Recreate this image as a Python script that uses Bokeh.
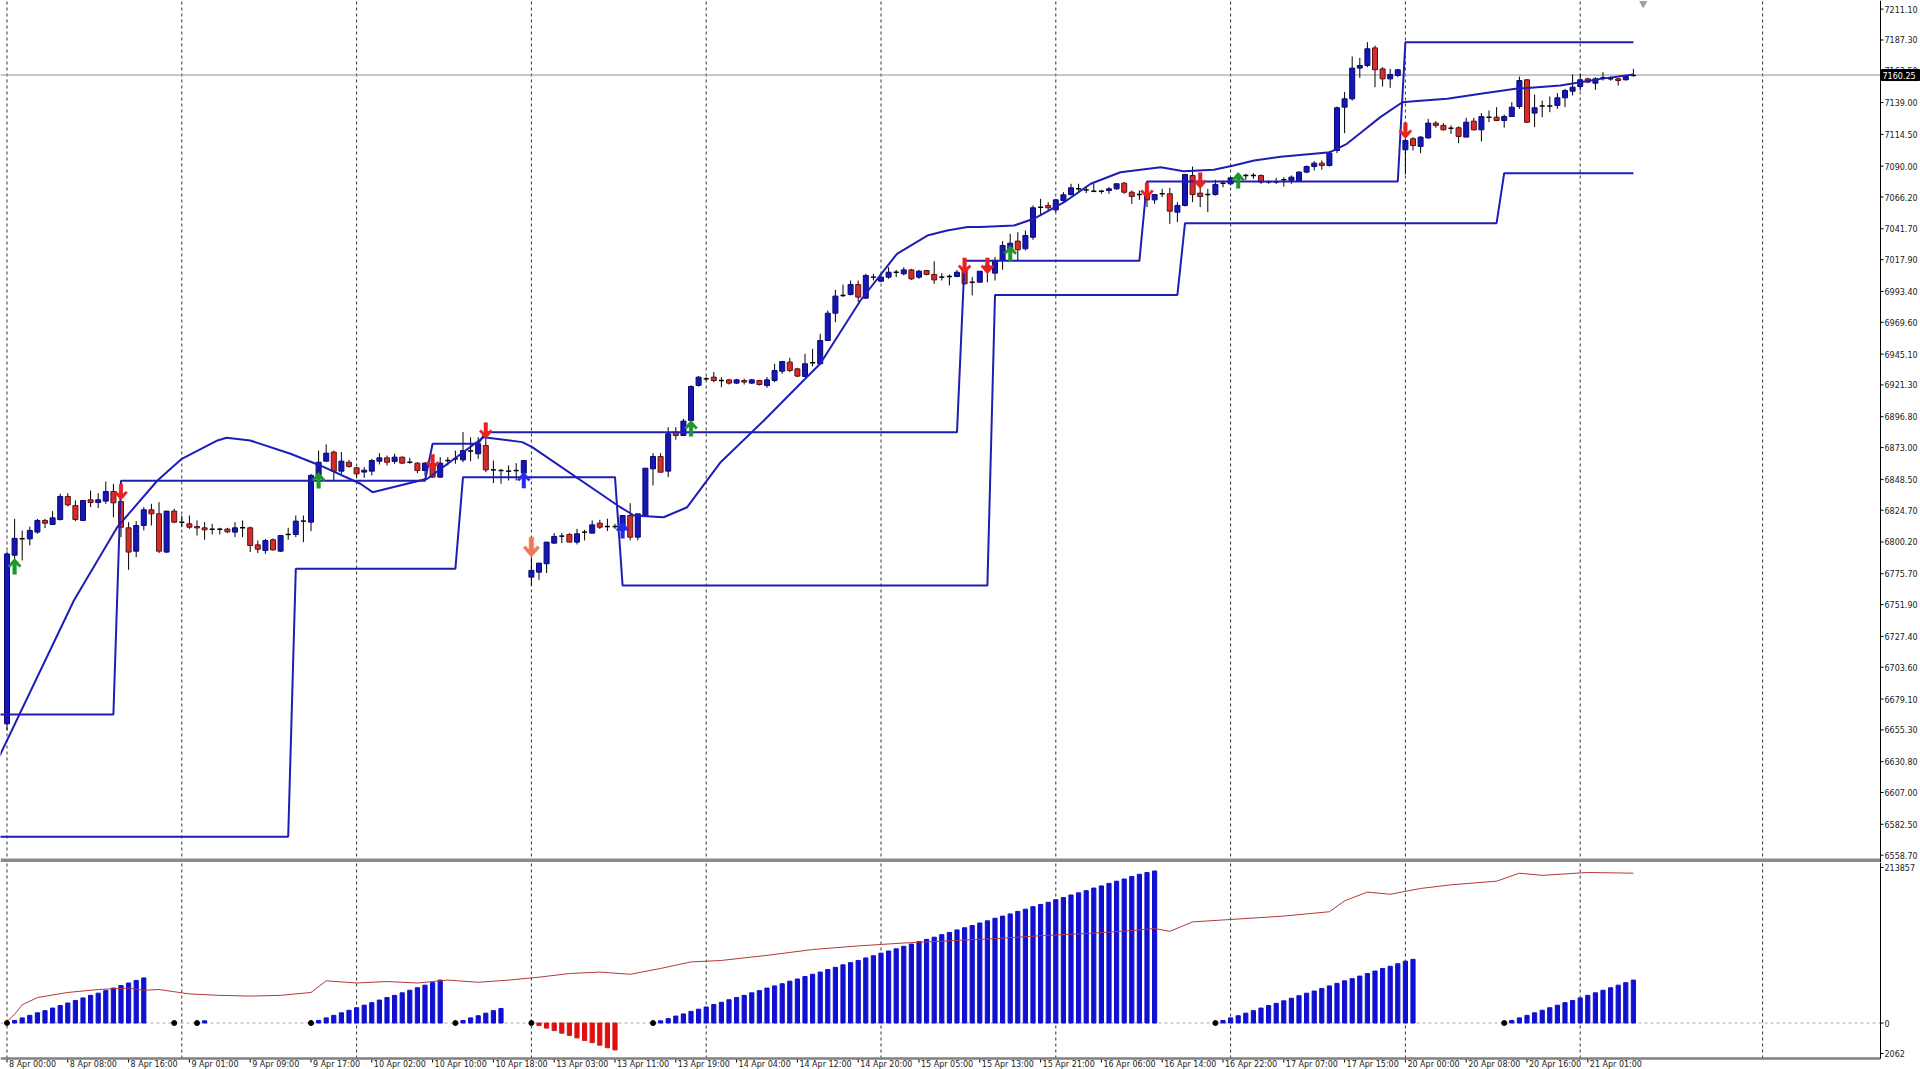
from bokeh.plotting import figure
from bokeh.layouts import column
from bokeh.models import Range1d, Span, BoxAnnotation, ColumnDataSource
from bokeh.core.properties import value
from bokeh.embed import file_html
from bokeh.resources import INLINE

# ---------------- data (H1 candles, bar index 0 = 8 Apr 00:00) ----------------
opens = [6660, 6790, 6802.6, 6802.6, 6807.8, 6816.8, 6813.7, 6817.5, 6835.3, 6828.3,
         6816.8, 6832.7, 6830.6, 6831.7, 6839.1, 6831.4, 6811.1, 6793.1, 6812.9, 6825.0,
         6821.9, 6792.4, 6824.0, 6815.5, 6814.2, 6812.1, 6811.1, 6810.1, 6810.1, 6810.1,
         6807.8, 6811.1, 6811.1, 6798.0, 6793.6, 6801.9, 6793.1, 6806.0, 6806.0, 6816.3,
         6815.5, 6851.5, 6862.5, 6869.5, 6854.8, 6861.7, 6857.4, 6854.1, 6854.8, 6862.5,
         6865.1, 6862.3, 6865.6, 6861.7, 6861.0, 6855.3, 6860.5, 6850.2, 6863.0, 6864.3,
         6863.5, 6870.4, 6868.2, 6874.6, 6855.8, 6855.3, 6854.8, 6855.3, 6853.3, 6773.1,
         6776.9, 6783.4, 6799.3, 6804.7, 6806.0, 6800.1, 6807.8, 6807.0, 6814.7, 6812.1,
         6812.1, 6809.1, 6820.6, 6803.9, 6820.6, 6856.6, 6866.1, 6854.8, 6884.9, 6882.3,
         6893.9, 6920.9, 6926.0, 6927.3, 6924.7, 6925.2, 6922.7, 6924.7, 6922.7, 6924.7,
         6920.9, 6924.7, 6931.9, 6938.9, 6933.7, 6927.8, 6938.4, 6937.6, 6955.6, 6976.6,
         6990.3, 6991.0, 6998.7, 6988.2, 7004.4, 7001.3, 7004.4, 7008.2, 7007.0, 7010.0,
         7004.4, 7009.5, 7006.5, 7004.4, 7004.9, 7004.9, 7010.0, 7000.5, 7000.5, 7013.4,
         7007.5, 7017.3, 7024.9, 7032.2, 7026.3, 7035.2, 7058.4, 7059.7, 7056.3, 7063.5,
         7068.1, 7072.5, 7071.7, 7070.7, 7070.7, 7071.2, 7072.5, 7076.9, 7069.9, 7068.1,
         7068.7, 7064.0, 7068.7, 7068.7, 7054.5, 7059.7, 7082.8, 7069.2, 7068.1, 7068.1,
         7076.9, 7076.4, 7082.8, 7082.8, 7082.8, 7082.8, 7077.7, 7077.7, 7079.5, 7079.0,
         7078.4, 7085.4, 7089.7, 7092.3, 7090.5, 7102.1, 7135.5, 7141.9, 7165.6, 7167.6,
         7181.2, 7165.0, 7157.3, 7159.9, 7102.6, 7111.1, 7105.2, 7111.8, 7123.2, 7121.4,
         7119.3, 7119.6, 7112.4, 7124.7, 7118.0, 7127.8, 7127.8, 7125.2, 7128.3, 7136.0,
         7156.6, 7130.9, 7136.3, 7136.3, 7136.8, 7142.7, 7147.8, 7151.4, 7157.3, 7154.0,
         7158.1, 7157.3, 7157.3, 7156.6, 7159.9]
highs = [6793, 6818, 6809, 6812, 6818, 6818, 6824, 6837.3, 6837.8, 6832.2,
         6832.2, 6839.9, 6837.8, 6846.8, 6845.0, 6832.2, 6815.5, 6816.3, 6827.1, 6829.6,
         6830.9, 6824.0, 6825.8, 6820.6, 6820.6, 6816.8, 6815.5, 6814.2, 6811.1, 6811.1,
         6815.5, 6816.8, 6812.1, 6801.3, 6802.6, 6803.0, 6805.2, 6811.1, 6820.6, 6820.6,
         6852.7, 6870.7, 6875.4, 6870.7, 6869.5, 6863.5, 6858.0, 6857.9, 6864.3, 6868.7,
         6866.9, 6868.2, 6866.1, 6865.1, 6861.7, 6861.7, 6866.9, 6865.6, 6865.6, 6870.7,
         6884.9, 6881.0, 6881.0, 6886.2, 6863.0, 6856.6, 6859.2, 6861.0, 6863.0, 6788.5,
         6783.9, 6800.1, 6807.0, 6807.0, 6807.0, 6810.3, 6809.6, 6816.8, 6817.3, 6818.1,
         6814.2, 6820.6, 6830.1, 6821.9, 6857.1, 6868.7, 6868.7, 6888.7, 6888.7, 6895.2,
         6921.0, 6928.0, 6927.3, 6931.2, 6927.3, 6926.0, 6926.0, 6926.0, 6926.0, 6925.2,
         6927.3, 6937.6, 6939.4, 6942.2, 6934.5, 6945.3, 6949.1, 6960.7, 6978.7, 6994.6,
         6998.7, 7001.8, 7001.8, 7007.0, 7007.0, 7007.0, 7012.1, 7010.0, 7012.1, 7010.8,
         7010.0, 7010.0, 7016.7, 7007.5, 7006.5, 7010.0, 7014.7, 7004.4, 7009.0, 7014.7,
         7020.0, 7032.2, 7037.8, 7039.1, 7040.4, 7059.7, 7064.8, 7062.2, 7064.8, 7070.0,
         7076.4, 7076.4, 7074.3, 7076.4, 7071.7, 7073.8, 7076.9, 7077.7, 7071.2, 7071.2,
         7069.9, 7068.1, 7072.5, 7073.3, 7062.2, 7083.6, 7089.7, 7077.7, 7072.5, 7079.5,
         7078.9, 7081.5, 7084.1, 7084.1, 7084.6, 7083.6, 7078.9, 7081.0, 7081.5, 7082.8,
         7086.1, 7090.5, 7093.9, 7094.4, 7101.6, 7136.0, 7147.1, 7174.6, 7173.5, 7185.6,
         7183.0, 7166.3, 7165.0, 7165.0, 7111.1, 7112.4, 7113.1, 7126.5, 7124.7, 7123.2,
         7121.4, 7120.6, 7127.3, 7127.3, 7130.9, 7132.9, 7135.5, 7129.8, 7139.3, 7159.1,
         7157.0, 7145.2, 7140.6, 7143.7, 7146.3, 7149.6, 7160.7, 7161.2, 7158.1, 7158.6,
         7162.5, 7159.1, 7158.1, 7159.9, 7165.0]
lows = [6655, 6781, 6786, 6797.5, 6806.5, 6811, 6813.7, 6816.8, 6827.6, 6816.3,
        6816.3, 6827.1, 6826.3, 6829.6, 6819.3, 6803.9, 6778.7, 6788.5, 6809.1, 6812.9,
        6791.6, 6791.6, 6814.7, 6811.6, 6810.3, 6805.2, 6801.9, 6806.0, 6806.0, 6807.0,
        6803.9, 6803.9, 6792.4, 6791.6, 6791.1, 6793.6, 6792.4, 6801.9, 6803.9, 6800.1,
        6808.5, 6851.0, 6862.0, 6847.6, 6852.7, 6857.4, 6850.2, 6849.7, 6851.5, 6860.0,
        6859.2, 6860.5, 6860.5, 6860.5, 6853.3, 6851.5, 6849.7, 6849.7, 6859.2, 6860.5,
        6861.7, 6862.5, 6864.3, 6854.0, 6845.6, 6845.1, 6847.6, 6847.6, 6847.6, 6766.7,
        6771.0, 6776.2, 6799.0, 6799.3, 6800.1, 6798.3, 6801.4, 6807.0, 6810.3, 6808.6,
        6810.3, 6805.2, 6801.4, 6801.4, 6820.6, 6843.8, 6854.0, 6850.2, 6879.0, 6882.3,
        6893.0, 6920.0, 6924.7, 6923.4, 6919.6, 6921.6, 6922.0, 6921.6, 6922.0, 6920.9,
        6919.1, 6923.4, 6929.9, 6931.2, 6927.3, 6927.3, 6935.5, 6937.6, 6955.6, 6969.7,
        6989.0, 6990.3, 6985.1, 6987.7, 7001.8, 7000.5, 7003.1, 7004.4, 7005.7, 7002.3,
        7003.1, 7005.7, 6999.3, 7001.8, 6998.0, 7004.4, 6998.8, 6990.3, 7000.5, 7000.5,
        7001.8, 7010.1, 7024.0, 7017.3, 7025.0, 7033.2, 7052.0, 7055.8, 7054.5, 7062.2,
        7067.3, 7069.2, 7069.2, 7069.9, 7068.7, 7068.7, 7071.7, 7068.7, 7060.9, 7064.0,
        7058.4, 7060.9, 7066.1, 7045.5, 7046.8, 7058.9, 7062.2, 7058.4, 7054.5, 7067.3,
        7073.8, 7075.1, 7078.9, 7079.5, 7080.2, 7076.4, 7076.4, 7076.4, 7074.3, 7076.4,
        7078.4, 7084.6, 7086.7, 7087.2, 7089.7, 7100.0, 7115.4, 7140.6, 7158.1, 7166.3,
        7150.9, 7151.4, 7150.4, 7158.6, 7083.6, 7102.1, 7100.0, 7111.0, 7119.6, 7117.5,
        7114.9, 7107.7, 7112.4, 7117.5, 7109.0, 7123.9, 7124.7, 7119.6, 7128.3, 7134.2,
        7123.2, 7120.1, 7127.8, 7131.6, 7134.2, 7135.5, 7144.5, 7148.3, 7154.0, 7148.8,
        7156.0, 7156.0, 7152.2, 7156.0, 7159.1]
closes = [6791, 6803, 6802.6, 6809.1, 6816.8, 6814.7, 6818.8, 6835.3, 6828.8, 6817.5,
          6832.2, 6830.6, 6832.7, 6839.1, 6830.4, 6811.6, 6792.4, 6812.9, 6825.0, 6821.9,
          6793.1, 6824.0, 6815.5, 6815.5, 6811.6, 6811.1, 6809.6, 6810.1, 6810.1, 6808.0,
          6811.1, 6811.1, 6797.5, 6794.6, 6801.3, 6794.1, 6805.2, 6806.0, 6816.3, 6816.3,
          6851.5, 6861.7, 6868.7, 6854.8, 6862.5, 6858.4, 6852.7, 6855.5, 6863.0, 6865.1,
          6861.7, 6865.6, 6861.0, 6861.7, 6855.3, 6861.0, 6850.2, 6861.0, 6863.0, 6864.3,
          6870.7, 6870.4, 6875.9, 6855.8, 6855.8, 6855.3, 6854.8, 6855.3, 6863.0, 6778.3,
          6783.9, 6800.1, 6804.5, 6804.7, 6800.1, 6806.5, 6807.8, 6813.4, 6811.6, 6812.1,
          6812.1, 6820.6, 6803.9, 6821.9, 6857.1, 6866.1, 6854.0, 6883.6, 6882.3, 6893.4,
          6920.1, 6927.3, 6926.0, 6924.7, 6924.7, 6922.7, 6925.2, 6923.5, 6925.2, 6921.6,
          6925.2, 6932.4, 6939.4, 6932.4, 6928.1, 6937.6, 6938.4, 6955.6, 6976.6, 6989.8,
          6990.3, 6998.7, 6989.0, 7005.7, 7004.4, 7004.4, 7008.2, 7008.2, 7010.0, 7003.1,
          7009.0, 7006.5, 7002.3, 7004.4, 7004.9, 7008.2, 6999.3, 7000.5, 7009.0, 7009.5,
          7017.3, 7028.8, 7030.6, 7025.5, 7036.5, 7057.9, 7058.4, 7057.9, 7064.0, 7067.9,
          7073.3, 7072.5, 7071.7, 7070.7, 7070.7, 7072.5, 7076.4, 7069.9, 7066.6, 7068.1,
          7064.0, 7068.1, 7068.7, 7055.3, 7059.7, 7083.6, 7068.1, 7066.6, 7068.1, 7075.9,
          7076.9, 7081.0, 7082.8, 7082.8, 7082.8, 7077.7, 7077.7, 7077.7, 7079.5, 7081.5,
          7085.4, 7089.7, 7092.3, 7090.5, 7100.0, 7135.0, 7141.9, 7165.6, 7167.6, 7180.5,
          7164.3, 7157.3, 7160.7, 7164.3, 7109.8, 7105.9, 7112.4, 7123.2, 7121.4, 7118.0,
          7119.3, 7112.9, 7123.9, 7118.0, 7128.3, 7127.8, 7125.2, 7128.3, 7135.5, 7156.0,
          7123.9, 7135.0, 7136.3, 7136.3, 7142.7, 7148.3, 7150.9, 7156.6, 7154.8, 7157.3,
          7158.1, 7157.3, 7156.0, 7159.1, 7160.25]

current_price = 7160.25

# smooth indicator curve (bar, price)
curve_bar = [-1, 8.8, 14.5, 19.8, 23.0, 27.7, 28.9, 32.0, 37.3, 41.2, 46.5, 48.1, 55.3, 62.7,
             67.8, 69.1, 80.7, 82.5, 86.4, 89.5, 93.9, 99.6, 104.8, 107.0, 112.3, 117.1, 121.1,
             123.7, 126.4, 128.1, 132.5, 135.1, 139.1, 142.6, 146.5, 151.8, 154.8, 158.8, 161.4,
             164.1, 167.6, 174.1, 176.3, 178.5, 180.7, 183.6, 185.1, 189.5, 193.9, 198.5, 204.4,
             209.7, 214]
curve_price = [6635, 6755.1, 6811.6, 6847.6, 6864.3, 6878.5, 6880.6, 6878.5, 6868.2, 6859.2,
               6845.1, 6838.6, 6848.9, 6881.0, 6877.2, 6873.3, 6827.0, 6820.6, 6819.3, 6827.0,
               6861.7, 6893.9, 6924.7, 6937.6, 6986.4, 7022.4, 7036.5, 7040.4, 7043.1, 7043.0,
               7044.2, 7049.4, 7062.2, 7076.4, 7085.3, 7089.2, 7086.1, 7087.2, 7090.5, 7094.4,
               7097.2, 7100.8, 7107.2, 7117.5, 7127.8, 7139.3, 7140.1, 7141.9, 7145.8, 7149.6,
               7152.2, 7157.3, 7160.7]

# step levels: bar where each level starts, and the level
upper_start = [-1, 15, 56, 63, 126, 150, 184]
upper_level = [6667.2, 6847.4, 6875.9, 6884.9, 7017.0, 7078.2, 7185.6]
lower_start = [-1, 38, 60, 81, 130, 155, 197]
lower_level = [6572.9, 6779.6, 6850.2, 6766.6, 6990.7, 7046.0, 7084.6]

# signal arrows: bar, tip price
green_up_bars = [1, 41, 90, 132, 162]
green_up_tips = [6787.6, 6854.0, 6894.0, 7028.8, 7085.3]
blue_up_bars = [68, 81]
blue_up_tips = [6854.1, 6815.5]
red_down_bars = [15, 56, 63, 126, 129, 150, 157, 184]
red_down_tips = [6832.4, 6855.4, 6879.8, 7006.9, 7006.9, 7064.8, 7072.5, 7111.1]
orange_down_bars = [69]
orange_down_tips = [6788.5]

# price axis labels
price_ticks = [7211.10, 7187.30, 7163.50, 7139.00, 7114.50, 7090.00, 7066.20, 7041.70,
               7017.90, 6993.40, 6969.60, 6945.10, 6921.30, 6896.80, 6873.00, 6848.50,
               6824.70, 6800.20, 6775.70, 6751.90, 6727.40, 6703.60, 6679.10, 6655.30,
               6630.80, 6607.00, 6582.50, 6558.70]

# time axis labels (every 8 bars)
time_tick_bars = [0, 8, 16, 24, 32, 40, 48, 56, 64, 72, 80, 88, 96, 104, 112, 120, 128,
                  136, 144, 152, 160, 168, 176, 184, 192, 200, 208]
time_labels = ["8 Apr 00:00", "8 Apr 08:00", "8 Apr 16:00", "9 Apr 01:00", "9 Apr 09:00",
               "9 Apr 17:00", "10 Apr 02:00", "10 Apr 10:00", "10 Apr 18:00", "13 Apr 03:00",
               "13 Apr 11:00", "13 Apr 19:00", "14 Apr 04:00", "14 Apr 12:00", "14 Apr 20:00",
               "15 Apr 05:00", "15 Apr 13:00", "15 Apr 21:00", "16 Apr 06:00", "16 Apr 14:00",
               "16 Apr 22:00", "17 Apr 07:00", "17 Apr 15:00", "20 Apr 00:00", "20 Apr 08:00",
               "20 Apr 16:00", "21 Apr 01:00"]
day_start_bars = [0, 23, 46, 69, 92, 115, 138, 161, 184, 207, 231]

# lower indicator: histogram segments (start bar, values in thousands)
hist_seg_start = [1, 26, 41, 60, 70, 86, 160, 198]
hist_seg_values_k = [
    [3.5, 7, 10.5, 14, 17, 20.5, 24, 27.5, 31, 34.5, 38, 41, 44.5, 48, 51.5, 55, 58.5, 62],
    [3],
    [3.5, 7, 10.5, 14, 17.5, 21, 24.5, 28, 31.5, 35, 38, 41.5, 45, 48.5, 52, 55.5, 59],
    [3.5, 7, 10, 13.5, 17, 20],
    [-3.5, -7, -10.5, -14, -17, -20.5, -24, -27, -30.5, -34, -37],
    [3, 6, 9.5, 12.5, 16, 19, 22, 25.5, 28.5, 32, 35, 38, 41.5, 44.5, 48, 51, 54, 57.5, 60.5,
     64, 67, 70, 73.5, 76.5, 80, 83, 86, 89.5, 92.5, 96, 99, 102, 105.5, 108.5, 112, 115, 118,
     121.5, 124.5, 128, 131, 134, 137.5, 140.5, 144, 147, 150, 153.5, 156.5, 160, 163, 166,
     169.5, 172.5, 176, 179, 182, 185.5, 188.5, 192, 195, 198, 201.5, 204.5, 207, 209],
    [3.5, 7, 10, 13.5, 17, 20.5, 24, 27, 30.5, 34, 37.5, 41, 44, 47.5, 51, 54.5, 58, 61, 64.5,
     68, 71.5, 75, 78, 81.5, 85, 87.5],
    [3.5, 7, 10.5, 14, 17.5, 21, 24.5, 28, 31, 34.5, 38, 41.5, 45, 48.5, 52, 55.5, 59],
]
signal_dot_bars = [0, 22, 25, 40, 59, 69, 85, 159, 197]

# lower indicator: red line (bar, value in thousands)
red_line_bar = [0, 1, 2, 4, 8, 12, 16, 18, 20, 24, 28, 32, 36, 40, 42, 46, 50, 54, 58, 62, 66,
                70, 74, 78, 82, 86, 90, 94, 100, 106, 112, 118, 124, 130, 136, 142, 148, 151,
                153, 156, 162, 168, 174, 176, 179, 182, 186, 190, 196, 199, 202, 208, 214]
red_line_k = [2.062, 12, 25, 35, 42, 46, 48, 45, 46, 40, 38, 37, 38, 42, 58, 55, 57, 55, 59, 56,
              59, 63, 68, 70, 67, 75, 84, 86, 93, 101, 106, 110, 113, 116, 120, 123, 127, 130,
              126, 139, 143, 147, 153, 168, 180, 177, 185, 190, 195, 206, 203, 207, 206]
ind_max_label = 213857
ind_min_label = "2062"

# ---------------- geometry (pixels of the 1920x1069 page) ----------------
W, H = 1920, 1069
AXIS_X_PX = 1880          # right price axis position
MAIN_H = 862              # main panel height (incl. separator)
IND_H = H - MAIN_H
BAR_PX = 7.6              # pixels per bar
X0_PX = 6.5               # pixel of bar 0
x_start = -X0_PX / BAR_PX
x_end = x_start + W / BAR_PX
X_AXIS = x_start + AXIS_X_PX / BAR_PX
px_x = 1.0 / BAR_PX

# price <-> pixel of main panel (from the price scale)
P_REF, P_REF_Y, P_PER_PX = 7211.10, 8.6, 0.7711
Y_MAX = P_REF + P_REF_Y * P_PER_PX
Y_MIN = P_REF - (MAIN_H - P_REF_Y) * P_PER_PX
px_y = P_PER_PX

# indicator value <-> pixel
ZERO_Y, V_PER_PX = 1022.5, 1375.0
def ind_val(ypix):
    return (ZERO_Y - ypix) * V_PER_PX
I_MAX = ind_val(MAIN_H)
I_MIN = ind_val(H)

FONT = value("DejaVu Sans")
FS = value("8px")
TXT = "#202020"
BLUE_LINE = "#1E1EB4"

n = len(opens)
bars = list(range(n))
xr = Range1d(x_start, x_end)

def base_fig(h, yr):
    p = figure(width=W, height=h, x_range=xr, y_range=yr, output_backend="svg",
               toolbar_location=None, x_axis_location=None, y_axis_location=None,
               min_border_left=0, min_border_right=0, min_border_top=0, min_border_bottom=0)
    p.outline_line_color = None
    p.background_fill_color = "white"
    p.border_fill_color = "white"
    p.grid.grid_line_color = None
    return p

# ---------------- main price panel ----------------
p1 = base_fig(MAIN_H, Range1d(Y_MIN, Y_MAX))

# day separators (vertical dashed grid)
p1.segment(x0=day_start_bars, y0=[Y_MIN] * len(day_start_bars), x1=day_start_bars,
           y1=[Y_MAX] * len(day_start_bars), line_color="#303030", line_width=1, line_dash="3 3")

# current price line
p1.segment(x0=[x_start], y0=[current_price], x1=[X_AXIS], y1=[current_price],
           line_color="#909090", line_width=1)

# candles
up_src = {"x": [], "top": [], "bottom": []}
dn_src = {"x": [], "top": [], "bottom": []}
dj_src = {"x0": [], "x1": [], "y": []}
for i in bars:
    o, c = opens[i], closes[i]
    if abs(c - o) < 0.5:
        dj_src["x0"].append(i - 0.33); dj_src["x1"].append(i + 0.33); dj_src["y"].append(o)
    elif c > o:
        up_src["x"].append(i); up_src["top"].append(c); up_src["bottom"].append(o)
    else:
        dn_src["x"].append(i); dn_src["top"].append(o); dn_src["bottom"].append(c)

p1.segment(x0=bars, y0=highs, x1=bars, y1=lows, line_color="black", line_width=1)
p1.vbar(x="x", top="top", bottom="bottom", width=0.66, source=ColumnDataSource(up_src),
        fill_color="#1616B8", line_color="#0A0A70", line_width=1)
p1.vbar(x="x", top="top", bottom="bottom", width=0.66, source=ColumnDataSource(dn_src),
        fill_color="#D62C2C", line_color="#5A1212", line_width=1)
p1.segment(x0="x0", y0="y", x1="x1", y1="y", source=ColumnDataSource(dj_src),
           line_color="black", line_width=1.5)

# step lines + smooth curve
def expand_steps(starts, levels, last):
    xs, ys = [], []
    for b in range(starts[0], last + 1):
        k = max(j for j, s in enumerate(starts) if s <= b)
        xs.append(b); ys.append(levels[k])
    return xs, ys

ux, uy = expand_steps(upper_start, upper_level, n - 1)
lx, ly = expand_steps(lower_start, lower_level, n - 1)
p1.line(ux, uy, line_color=BLUE_LINE, line_width=2)
p1.line(lx, ly, line_color=BLUE_LINE, line_width=2)
p1.line(curve_bar, curve_price, line_color=BLUE_LINE, line_width=2)

# arrows (shape in pixels, tip at origin)
ARROW = [(0, 0), (6.5, 7.5), (4.8, 9), (1.8, 6.2), (1.8, 16), (-1.8, 16), (-1.8, 6.2),
         (-4.8, 9), (-6.5, 7.5)]

def arrow_patches(bars_, tips, up, scale=1.0):
    xs, ys = [], []
    sgn = -1 if up else 1
    for b, t in zip(bars_, tips):
        xs.append([b + dx * scale * px_x for dx, dy in ARROW])
        ys.append([t + sgn * dy * scale * px_y for dx, dy in ARROW])
    return xs, ys

for b_, t_, up, col, sc in [(green_up_bars, green_up_tips, True, "#1E962A", 1.0),
                            (blue_up_bars, blue_up_tips, True, "#2A2AE6", 1.0),
                            (red_down_bars, red_down_tips, False, "#E82222", 1.0),
                            (orange_down_bars, orange_down_tips, False, "#F0785A", 1.25)]:
    xs, ys = arrow_patches(b_, t_, up, sc)
    p1.patches(xs, ys, fill_color=col, line_color=col, line_width=0.5)

# chart shift marker at the top
p1.scatter([n + 0.3], [Y_MAX - 3 * px_y], marker="inverted_triangle", size=7,
           fill_color="#A0A0A0", line_color="#A0A0A0")

# separator between panels
p1.add_layout(BoxAnnotation(left=x_start, right=X_AXIS, bottom=Y_MIN, top=Y_MIN + 4 * px_y,
                            fill_color="#8A8A8A", fill_alpha=1.0, line_color=None))

# right price axis
p1.add_layout(Span(location=X_AXIS, dimension="height", line_color="black", line_width=1))
p1.segment(x0=[X_AXIS] * len(price_ticks), y0=price_ticks,
           x1=[X_AXIS + 3 * px_x] * len(price_ticks), y1=price_ticks, line_color="black")
p1.text(x=[X_AXIS + 4 * px_x] * len(price_ticks), y=price_ticks,
        text=[f"{t:.2f}" for t in price_ticks], text_font=FONT, text_font_size=FS,
        text_color=TXT, text_align="left", text_baseline="middle")

# current price box on the axis
p1.rect(x=[X_AXIS + 20 * px_x], y=[current_price], width=38, height=11,
        width_units="screen", height_units="screen", fill_color="black", line_color="black")
p1.text(x=[X_AXIS + 2 * px_x], y=[current_price], text=[f"{current_price:.2f}"],
        text_font=FONT, text_font_size=FS, text_color="white", text_align="left",
        text_baseline="middle")

# ---------------- indicator panel ----------------
p2 = base_fig(IND_H, Range1d(I_MIN, I_MAX))
BOTTOM_V = ind_val(1058.0)

p2.segment(x0=day_start_bars, y0=[BOTTOM_V] * len(day_start_bars), x1=day_start_bars,
           y1=[I_MAX] * len(day_start_bars), line_color="#303030", line_width=1, line_dash="3 3")
p2.segment(x0=[x_start], y0=[0], x1=[X_AXIS], y1=[0], line_color="#A8A8A8", line_width=1,
           line_dash="3 3")

hx_pos, hv_pos, hx_neg, hv_neg = [], [], [], []
for s, vals in zip(hist_seg_start, hist_seg_values_k):
    for j, v in enumerate(vals):
        if v >= 0:
            hx_pos.append(s + j); hv_pos.append(v * 1000)
        else:
            hx_neg.append(s + j); hv_neg.append(v * 1000)
p2.vbar(x=hx_pos, top=hv_pos, bottom=0, width=0.55, fill_color="#1010D0", line_color="#1010D0")
p2.vbar(x=hx_neg, top=0, bottom=hv_neg, width=0.55, fill_color="#E01010", line_color="#E01010")
p2.line(red_line_bar, [v * 1000 for v in red_line_k], line_color="#B23A3A", line_width=1)
p2.scatter(signal_dot_bars, [0] * len(signal_dot_bars), size=5, fill_color="black",
           line_color="black")

# bottom border line and right axis of the indicator window
p2.segment(x0=[x_start], y0=[BOTTOM_V], x1=[X_AXIS], y1=[BOTTOM_V], line_color="#808080",
           line_width=2.5)
p2.segment(x0=[X_AXIS], y0=[BOTTOM_V], x1=[X_AXIS], y1=[I_MAX], line_color="black", line_width=1)
ind_tick_vals = [ind_max_label, 0, ind_val(1053)]
ind_tick_text = [str(ind_max_label), "0", ind_min_label]
p2.segment(x0=[X_AXIS] * 3, y0=ind_tick_vals, x1=[X_AXIS + 3 * px_x] * 3, y1=ind_tick_vals,
           line_color="black")
p2.text(x=[X_AXIS + 4 * px_x] * 3, y=ind_tick_vals, text=ind_tick_text, text_font=FONT,
        text_font_size=FS, text_color=TXT, text_align="left", text_baseline="middle")

# time axis: ticks and labels starting at the tick
TICK_TOP, TICK_BOT, LABEL_TOP = ind_val(1059.0), ind_val(1062.0), ind_val(1059.5)
p2.segment(x0=time_tick_bars, y0=[TICK_TOP] * len(time_tick_bars), x1=time_tick_bars,
           y1=[TICK_BOT] * len(time_tick_bars), line_color="black", line_width=1)
p2.text(x=[b + 2 * px_x for b in time_tick_bars], y=[LABEL_TOP] * len(time_tick_bars),
        text=time_labels, text_font=FONT, text_font_size=FS, text_color=TXT,
        text_align="left", text_baseline="top")

layout = column(p1, p2, spacing=0)
open("out.html", "w").write(file_html(layout, INLINE))
